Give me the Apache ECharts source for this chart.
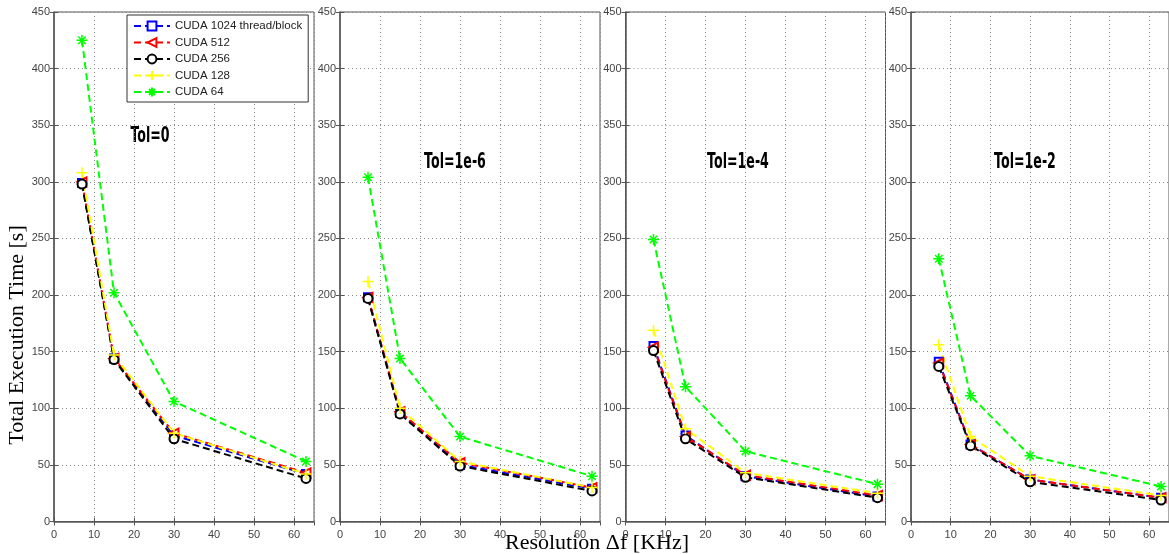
<!DOCTYPE html>
<html>
<head>
<meta charset="utf-8">
<script src="https://cdn.jsdelivr.net/npm/echarts@6/dist/echarts.min.js"></script>
<style>
  html, body { margin: 0; padding: 0; background: #fff; }
  #main { width: 1169px; height: 554px; }
</style>
</head>
<body>
<div id="main"></div>
<script>
// resolution (KHz), same for all panels
var resolution = [7, 15, 30, 63];
var tolTitles = ['Tol=0', 'Tol=1e-6', 'Tol=1e-4', 'Tol=1e-2'];
var seriesNames = ['CUDA 1024 thread/block', 'CUDA 512', 'CUDA 256', 'CUDA 128', 'CUDA 64'];

// execution time [s], one row per panel (Tol=0, 1e-6, 1e-4, 1e-2)
var cuda1024 = [[299, 144, 76, 42], [198, 96, 50, 29], [155, 76, 40, 22], [141, 68, 37, 21]];
var cuda512  = [[300, 144, 78, 43], [198, 97, 52, 30], [154, 75, 41, 23], [140, 68, 37, 21]];
var cuda256  = [[298, 143, 73, 38], [197, 95, 49, 27], [151, 73, 39, 21], [137, 67, 35, 19]];
var cuda128  = [[308, 147, 78, 42], [212, 100, 53, 30], [169, 82, 43, 25], [156, 75, 40, 23]];
var cuda64   = [[425, 202, 106, 53], [304, 144, 75, 40], [249, 119, 62, 33], [232, 111, 58, 31]];

var yTicks = [0, 450, 50];   // min, max, step
var xTicks = [0, 65, 10];

var chart = echarts.init(document.getElementById('main'));

var panelLeft = [54, 340, 625.5, 911];
var titlePos = [[150, 137], [455, 163], [738, 163], [1025, 163]];

var PLUS = 'path://M5,0L5,10M0,5L10,5';
var STAR = 'path://M5,0L5,10M0,5L10,5M1.6,1.6L8.4,8.4M8.4,1.6L1.6,8.4';

var styles = [
  { data: cuda1024, color: '#0000ff', symbol: 'emptyRect', size: 8, rotate: 0 },
  { data: cuda512,  color: '#ff0000', symbol: 'emptyTriangle', size: 9, rotate: 90 },
  { data: cuda256,  color: '#000000', symbol: 'emptyCircle', size: 9, rotate: 0 },
  { data: cuda128,  color: '#ffff00', symbol: PLUS, size: 11, rotate: 0 },
  { data: cuda64,   color: '#00ff00', symbol: STAR, size: 11, rotate: 0 }
];

var grids = [], xAxes = [], yAxes = [], series = [], graphics = [];

for (let p = 0; p < 4; p++) {
  grids.push({ left: panelLeft[p], width: 260, top: 12, height: 509.5, show: true, borderColor: '#555', borderWidth: 1 });

  var tickStyle = { show: true, inside: true, length: 4, lineStyle: { color: '#555' } };
  var gridLine = { show: true, lineStyle: { color: '#888', type: [1, 3], width: 1 } };

  // bottom x axis
  xAxes.push({
    type: 'value', gridIndex: p, min: xTicks[0], max: xTicks[1], interval: xTicks[2],
    axisLine: { show: true, onZero: false, lineStyle: { color: '#555', width: 1.5 } },
    axisTick: tickStyle,
    axisLabel: { color: '#444', fontSize: 11, fontFamily: 'Arial, Liberation Sans', margin: 8, showMaxLabel: false },
    splitLine: gridLine
  });
  // top x axis (box ticks)
  xAxes.push({
    type: 'value', gridIndex: p, position: 'top', min: xTicks[0], max: xTicks[1], interval: xTicks[2],
    axisLine: { show: false }, axisTick: tickStyle, axisLabel: { show: false }, splitLine: { show: false }
  });
  // left y axis
  yAxes.push({
    type: 'value', gridIndex: p, min: yTicks[0], max: yTicks[1], interval: yTicks[2],
    axisLine: { show: true, onZero: false, lineStyle: { color: '#555', width: 1.5 } },
    axisTick: tickStyle,
    axisLabel: { color: '#444', fontSize: 11, fontFamily: 'Arial, Liberation Sans', margin: 4 },
    splitLine: gridLine
  });
  // right y axis (box ticks)
  yAxes.push({
    type: 'value', gridIndex: p, position: 'right', min: yTicks[0], max: yTicks[1], interval: yTicks[2],
    axisLine: { show: false }, axisTick: tickStyle, axisLabel: { show: false }, splitLine: { show: false }
  });

  for (let s = 0; s < styles.length; s++) {
    var st = styles[s];
    var pts = [];
    for (let i = 0; i < resolution.length; i++) {
      pts.push([resolution[i], st.data[p][i]]);
    }
    series.push({
      name: seriesNames[s],
      type: 'line',
      xAxisIndex: p * 2,
      yAxisIndex: p * 2,
      data: pts,
      symbol: st.symbol,
      symbolSize: st.size,
      symbolRotate: st.rotate,
      showAllSymbol: true,
      color: st.color,
      lineStyle: { color: st.color, width: 2, type: [7, 4] },
      itemStyle: { color: st.color, borderColor: st.color, borderWidth: 1.5 },
      emphasis: { disabled: true },
      animation: false
    });
  }

  // panel title, narrow bold face
  graphics.push({
    type: 'text', x: titlePos[p][0], y: titlePos[p][1], scaleX: 0.6,
    style: { text: tolTitles[p], fill: '#000', font: 'bold 21px "DejaVu Sans", sans-serif', textAlign: 'center', textVerticalAlign: 'middle' }
  });
}

graphics.push({
  type: 'text', x: 597, y: 543,
  style: { text: 'Resolution \u0394f [KHz]', fill: '#000', font: '22px "Liberation Serif", serif', textAlign: 'center', textVerticalAlign: 'middle' }
});
graphics.push({
  type: 'text', x: 17, y: 335, rotation: Math.PI / 2,
  style: { text: 'Total Execution Time [s]', fill: '#000', font: '22px "Liberation Serif", serif', textAlign: 'center', textVerticalAlign: 'middle' }
});

var option = {
  backgroundColor: '#ffffff',
  animation: false,
  grid: grids,
  xAxis: xAxes,
  yAxis: yAxes,
  legend: {
    orient: 'vertical',
    left: 127, top: 15,
    width: 180,
    padding: [5, 6, 4, 6],
    itemGap: 4.5,
    itemWidth: 36, itemHeight: 11,
    backgroundColor: '#fff',
    borderColor: '#333', borderWidth: 1,
    textStyle: { color: '#222', fontSize: 11.5, fontFamily: 'Arial, Liberation Sans' },
    data: seriesNames,
    selectedMode: false
  },
  graphic: graphics,
  series: series
};
chart.setOption(option);
</script>
</body>
</html>
